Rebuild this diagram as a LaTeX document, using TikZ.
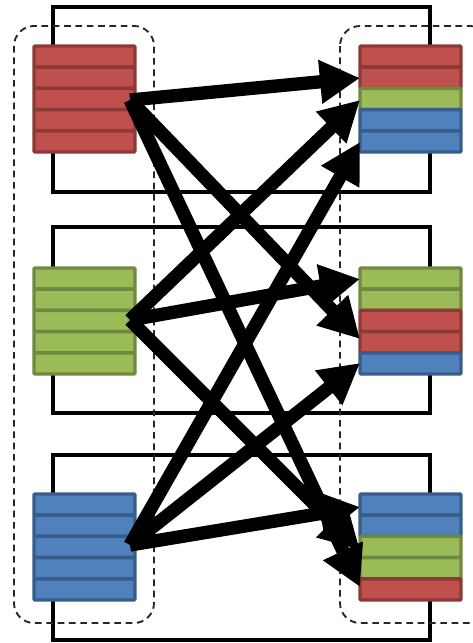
\documentclass[tikz,border=0pt]{standalone}
\usetikzlibrary{arrows.meta}
\definecolor{cred}{HTML}{C0504D}
\definecolor{credb}{HTML}{8C3A37}
\definecolor{cgreen}{HTML}{9BBB59}
\definecolor{cgreenb}{HTML}{71893F}
\definecolor{cblue}{HTML}{4F81BD}
\definecolor{cblueb}{HTML}{385D8A}
\tikzset{
  frame/.style={draw=black, line width=3pt},
  group/.style={draw=black!85, line width=1.4pt, dash pattern=on 5pt off 3.5pt, rounded corners=15pt},
  block/.style={rectangle, inner sep=0pt, minimum width=75.75pt, minimum height=79.5pt},
  stripe/.style={line width=2.6pt, rounded corners=0.8pt},
  arr/.style={line width=10pt, -{Triangle[length=30pt,width=31pt]}}
}
\begin{document}
\begin{tikzpicture}[x=0.75pt,y=-0.75pt]
\useasboundingbox (0,0) rectangle (472,643);
% solid frames
\draw[frame] (53,7) rectangle (430,192);
\draw[frame] (53,227) rectangle (430,413);
\draw[frame] (53,455) rectangle (430,640);
% dashed groups
\draw[group] (14,26) rectangle (154,623);
\draw[group] (340,26) rectangle (490,623);
% blocks
\node[block] (L1) at (84.5,99) {};
\node[block] (L2) at (84.5,320.5) {};
\node[block] (L3) at (84.5,546.5) {};
\node[block] (R1) at (410.5,99) {};
\node[block] (R2) at (410.5,320.5) {};
\node[block] (R3) at (410.5,546.5) {};
\foreach \c/\d [count=\i from 0] in {cred/credb,cred/credb,cred/credb,cred/credb,cred/credb}
  \draw[stripe, fill=\c, draw=\d] (34,46+\i*21.2) rectangle ++(101,21.2);
\foreach \c/\d [count=\i from 0] in {cgreen/cgreenb,cgreen/cgreenb,cgreen/cgreenb,cgreen/cgreenb,cgreen/cgreenb}
  \draw[stripe, fill=\c, draw=\d] (34,268+\i*21.2) rectangle ++(101,21.2);
\foreach \c/\d [count=\i from 0] in {cblue/cblueb,cblue/cblueb,cblue/cblueb,cblue/cblueb,cblue/cblueb}
  \draw[stripe, fill=\c, draw=\d] (34,494+\i*21.2) rectangle ++(101,21.2);
\foreach \c/\d [count=\i from 0] in {cred/credb,cred/credb,cgreen/cgreenb,cblue/cblueb,cblue/cblueb}
  \draw[stripe, fill=\c, draw=\d] (360,46+\i*21.2) rectangle ++(101,21.2);
\foreach \c/\d [count=\i from 0] in {cgreen/cgreenb,cgreen/cgreenb,cred/credb,cred/credb,cblue/cblueb}
  \draw[stripe, fill=\c, draw=\d] (360,268+\i*21.2) rectangle ++(101,21.2);
\foreach \c/\d [count=\i from 0] in {cblue/cblueb,cblue/cblueb,cgreen/cgreenb,cgreen/cgreenb,cred/credb}
  \draw[stripe, fill=\c, draw=\d] (360,494+\i*21.2) rectangle ++(101,21.2);
% connector end points
\coordinate (s1) at (130,100);
\coordinate (s2) at (130,320);
\coordinate (s3) at (130,545);
\coordinate (t1r) at (360,78);
\coordinate (t1g) at (360,100);
\coordinate (t1b) at (360,142);
\coordinate (t2g) at (360,279);
\coordinate (t2r) at (360,339);
\coordinate (t2b) at (360,363);
\coordinate (t3b) at (360,507);
\coordinate (t3g) at (360,550);
\coordinate (t3r) at (360,587);
% arrows
\draw[arr] (s1) -- (t1r);
\draw[arr] (s1) -- (t2r);
\draw[arr] (s1) -- (t3r);
\draw[arr] (s2) -- (t1g);
\draw[arr] (s2) -- (t2g);
\draw[arr] (s2) -- (t3g);
\draw[arr] (s3) -- (t1b);
\draw[arr] (s3) -- (t2b);
\draw[arr] (s3) -- (t3b);
\end{tikzpicture}
\end{document}
